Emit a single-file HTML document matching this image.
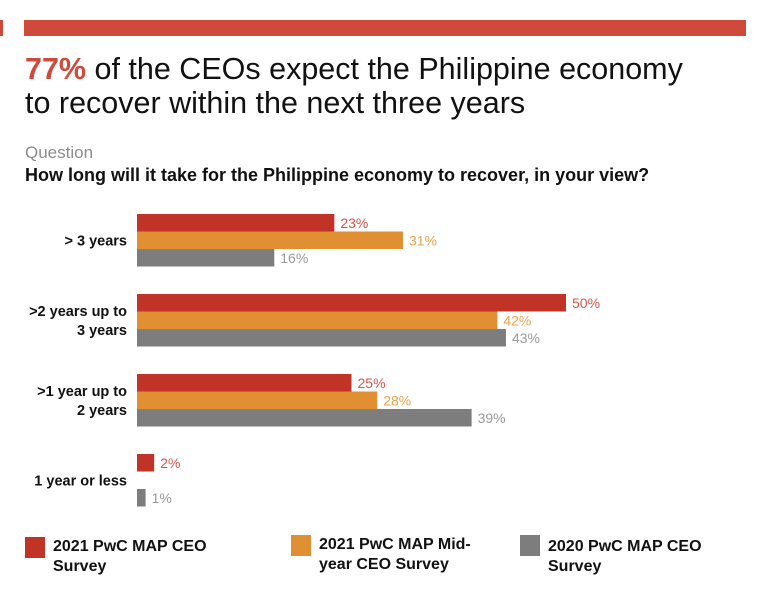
<!DOCTYPE html>
<html><head><meta charset="utf-8"><style>
body{margin:0;background:#fff;font-family:"Liberation Sans",Arial,sans-serif;}
#wrap{position:relative;width:766px;height:614px;overflow:hidden;}
</style></head><body>
<div id="wrap">
<svg id="chart" width="766" height="614" xmlns="http://www.w3.org/2000/svg" font-family="Liberation Sans, Arial, sans-serif">
<rect x="0" y="20" width="3" height="16" fill="#d04a3c"/>
<rect x="24" y="20" width="722" height="16" fill="#d04a3c"/>
<text x="25" y="79" font-size="30.5" fill="#111"><tspan fill="#d04a3c" font-weight="bold">77%</tspan> of the CEOs expect the Philippine economy</text>
<text x="25" y="113" font-size="30.5" fill="#111">to recover within the next three years</text>
<text x="25" y="158" font-size="17" fill="#8c8c8c">Question</text>
<text x="25" y="181" font-size="18" font-weight="bold" fill="#111">How long will it take for the Philippine economy to recover, in your view?</text>
<g id="bars"></g>
<g id="legend"></g>
</svg>
</div>
<script>
const categories = [["> 3 years"], [">2 years up to", "3 years"], [">1 year up to", "2 years"], ["1 year or less"]];
const seriesNames = [["2021 PwC MAP CEO", "Survey"], ["2021 PwC MAP Mid-", "year CEO Survey"], ["2020 PwC MAP CEO", "Survey"]];
const ceo2021 = [23, 50, 25, 2];
const midyear2021 = [31, 42, 28, 0];
const ceo2020 = [16, 43, 39, 1];

const series = [ceo2021, midyear2021, ceo2020];
const colors = ["#c23327", "#e08f32", "#7d7d7d"];
const textColors = ["#d9534a", "#eaa24a", "#9a9a9a"];
const NS = "http://www.w3.org/2000/svg";
const x0 = 137, pxPerPct = 8.58;
const xScale = v => x0 + v * pxPerPct;
const groupTop0 = 214, groupStep = 80, barH = 17.5;
const yGroup = i => groupTop0 + i * groupStep;

const bars = document.getElementById("bars");
categories.forEach((cat, i) => {
  const gt = yGroup(i);
  const mid = gt + barH * 1.5;
  const lbl = document.createElementNS(NS, "text");
  
  
  lbl.setAttribute("text-anchor", "end");
  lbl.setAttribute("font-size", "14.5");
  lbl.setAttribute("font-weight", "bold");
  lbl.setAttribute("fill", "#111");
  const lh = 19;
  cat.forEach((line, k) => {
    const t = document.createElementNS(NS, "tspan");
    t.setAttribute("x", 127);
    t.setAttribute("y", mid + 5 - (cat.length - 1) * lh / 2 + k * lh);
    t.textContent = line;
    lbl.appendChild(t);
  });
  bars.appendChild(lbl);
  series.forEach((s, j) => {
    const v = s[i];
    if (!v) return;
    const y = gt + j * barH;
    const r = document.createElementNS(NS, "rect");
    
    
    r.setAttribute("x", x0);
    r.setAttribute("y", y);
    r.setAttribute("width", xScale(v) - x0);
    r.setAttribute("height", barH);
    r.setAttribute("fill", colors[j]);
    bars.appendChild(r);
    const t = document.createElementNS(NS, "text");
    
    
    t.setAttribute("x", xScale(v) + 6);
    t.setAttribute("y", y + barH / 2 + 5);
    t.setAttribute("font-size", "14");
    t.setAttribute("fill", textColors[j]);
    t.textContent = v + "%";
    bars.appendChild(t);
  });
});

const legend = document.getElementById("legend");
const legX = [25, 291, 520];
seriesNames.forEach((nm, j) => {
  const g = document.createElementNS(NS, "g");
  
  
  const r = document.createElementNS(NS, "rect");
  r.setAttribute("x", legX[j]);
  r.setAttribute("y", j === 0 ? 537 : 535);
  r.setAttribute("width", 20);
  r.setAttribute("height", 21);
  r.setAttribute("fill", colors[j]);
  g.appendChild(r);
  nm.forEach((line, k) => {
    const t = document.createElementNS(NS, "text");
    t.setAttribute("x", legX[j] + 28);
    t.setAttribute("y", (j === 1 ? 549 : 551) + k * 20);
    t.setAttribute("font-size", "16");
    t.setAttribute("font-weight", "bold");
    t.setAttribute("fill", "#111");
    t.textContent = line;
    g.appendChild(t);
  });
  legend.appendChild(g);
});
</script>
</body></html>
